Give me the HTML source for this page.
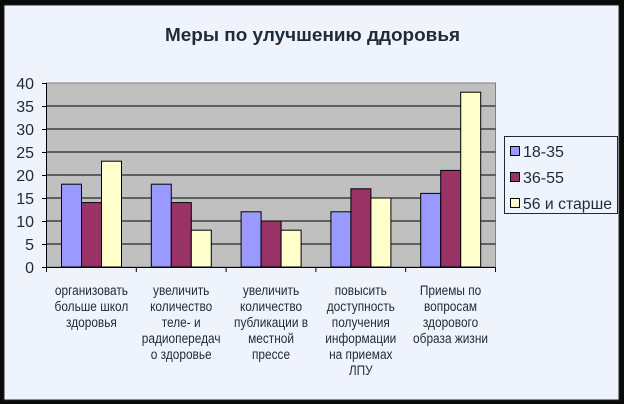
<!DOCTYPE html>
<html><head><meta charset="utf-8"><style>
html,body{margin:0;padding:0;background:#000;}
svg{display:block;}
</style></head><body>
<svg width="624" height="404" xmlns="http://www.w3.org/2000/svg" font-family="'Liberation Sans', sans-serif">
<rect x="0" y="0" width="624" height="404" fill="#0a0a0a"/>
<rect x="4" y="5" width="615" height="395" fill="#eff3fb" stroke="#1c2533" stroke-width="1"/>
<text x="312.5" y="41" text-anchor="middle" font-size="18" font-weight="bold" fill="#1f2a38" textLength="295" lengthAdjust="spacingAndGlyphs">Меры по улучшению ддоровья</text>
<rect x="46.5" y="83" width="449" height="184" fill="#c0c0c0" stroke="#808080" stroke-width="1"/>
<g stroke="#000" stroke-width="1">
<line x1="46.5" y1="106" x2="495.5" y2="106"/>
<line x1="46.5" y1="129" x2="495.5" y2="129"/>
<line x1="46.5" y1="152" x2="495.5" y2="152"/>
<line x1="46.5" y1="175" x2="495.5" y2="175"/>
<line x1="46.5" y1="198" x2="495.5" y2="198"/>
<line x1="46.5" y1="221" x2="495.5" y2="221"/>
<line x1="46.5" y1="244" x2="495.5" y2="244"/>
</g>
<g stroke="#000" stroke-width="1">
<rect x="61.5" y="184.2" width="20" height="82.8" fill="#9999ff"/>
<rect x="81.5" y="202.6" width="20" height="64.4" fill="#993366"/>
<rect x="101.5" y="161.2" width="20" height="105.8" fill="#ffffcc"/>
<rect x="151.3" y="184.2" width="20" height="82.8" fill="#9999ff"/>
<rect x="171.3" y="202.6" width="20" height="64.4" fill="#993366"/>
<rect x="191.3" y="230.2" width="20" height="36.8" fill="#ffffcc"/>
<rect x="241.1" y="211.8" width="20" height="55.2" fill="#9999ff"/>
<rect x="261.1" y="221" width="20" height="46" fill="#993366"/>
<rect x="281.1" y="230.2" width="20" height="36.8" fill="#ffffcc"/>
<rect x="330.9" y="211.8" width="20" height="55.2" fill="#9999ff"/>
<rect x="350.9" y="188.8" width="20" height="78.2" fill="#993366"/>
<rect x="370.9" y="198" width="20" height="69" fill="#ffffcc"/>
<rect x="420.7" y="193.4" width="20" height="73.6" fill="#9999ff"/>
<rect x="440.7" y="170.4" width="20" height="96.6" fill="#993366"/>
<rect x="460.7" y="92.2" width="20" height="174.8" fill="#ffffcc"/>
</g>
<g stroke="#000" stroke-width="1">
<line x1="46.5" y1="83" x2="46.5" y2="267"/>
<line x1="42" y1="267.5" x2="495.5" y2="267.5"/>
<line x1="42" y1="83.5" x2="46.5" y2="83.5"/>
<line x1="42" y1="106.5" x2="46.5" y2="106.5"/>
<line x1="42" y1="129.5" x2="46.5" y2="129.5"/>
<line x1="42" y1="152.5" x2="46.5" y2="152.5"/>
<line x1="42" y1="175.5" x2="46.5" y2="175.5"/>
<line x1="42" y1="198.5" x2="46.5" y2="198.5"/>
<line x1="42" y1="221.5" x2="46.5" y2="221.5"/>
<line x1="42" y1="244.5" x2="46.5" y2="244.5"/>
<line x1="46.5" y1="267" x2="46.5" y2="272"/>
<line x1="136.3" y1="267" x2="136.3" y2="272"/>
<line x1="226.1" y1="267" x2="226.1" y2="272"/>
<line x1="315.9" y1="267" x2="315.9" y2="272"/>
<line x1="405.7" y1="267" x2="405.7" y2="272"/>
<line x1="495.5" y1="267" x2="495.5" y2="272"/>
</g>
<g font-size="16" fill="#1f2a38" text-anchor="end">
<text x="34" y="89">40</text>
<text x="34" y="112">35</text>
<text x="34" y="135">30</text>
<text x="34" y="158">25</text>
<text x="34" y="181">20</text>
<text x="34" y="204">15</text>
<text x="34" y="227">10</text>
<text x="34" y="250">5</text>
<text x="34" y="273">0</text>
</g>
<g transform="scale(0.88,1)" font-size="13.5" fill="#1f2a38" text-anchor="middle">
<text x="103.9" y="295">организовать</text>
<text x="103.9" y="311">больше школ</text>
<text x="103.9" y="327">здоровья</text>
<text x="205.9" y="295">увеличить</text>
<text x="205.9" y="311">количество</text>
<text x="205.9" y="327">теле- и</text>
<text x="205.9" y="343">радиопередач</text>
<text x="205.9" y="359">о здоровье</text>
<text x="308" y="295">увеличить</text>
<text x="308" y="311">количество</text>
<text x="308" y="327">публикации в</text>
<text x="308" y="343">местной</text>
<text x="308" y="359">прессе</text>
<text x="410" y="295">повысить</text>
<text x="410" y="311">доступность</text>
<text x="410" y="327">получения</text>
<text x="410" y="343">информации</text>
<text x="410" y="359">на приемах</text>
<text x="410" y="375">ЛПУ</text>
<text x="512" y="295">Приемы по</text>
<text x="512" y="311">вопросам</text>
<text x="512" y="327">здорового</text>
<text x="512" y="343">образа жизни</text>
</g>
<rect x="504.5" y="136.5" width="113" height="77" fill="#eff3fb" stroke="#1f2a38" stroke-width="1"/>
<g stroke="#000" stroke-width="1">
<rect x="510.5" y="146.5" width="9" height="9" fill="#9999ff"/>
<rect x="510.5" y="172.5" width="9" height="9" fill="#993366"/>
<rect x="510.5" y="198.5" width="9" height="9" fill="#ffffcc"/>
</g>
<g font-size="16" fill="#1f2a38">
<text x="523" y="157">18-35</text>
<text x="523" y="183">36-55</text>
<text x="523" y="209" textLength="89" lengthAdjust="spacingAndGlyphs">56 и старше</text>
</g>
</svg>
</body></html>
